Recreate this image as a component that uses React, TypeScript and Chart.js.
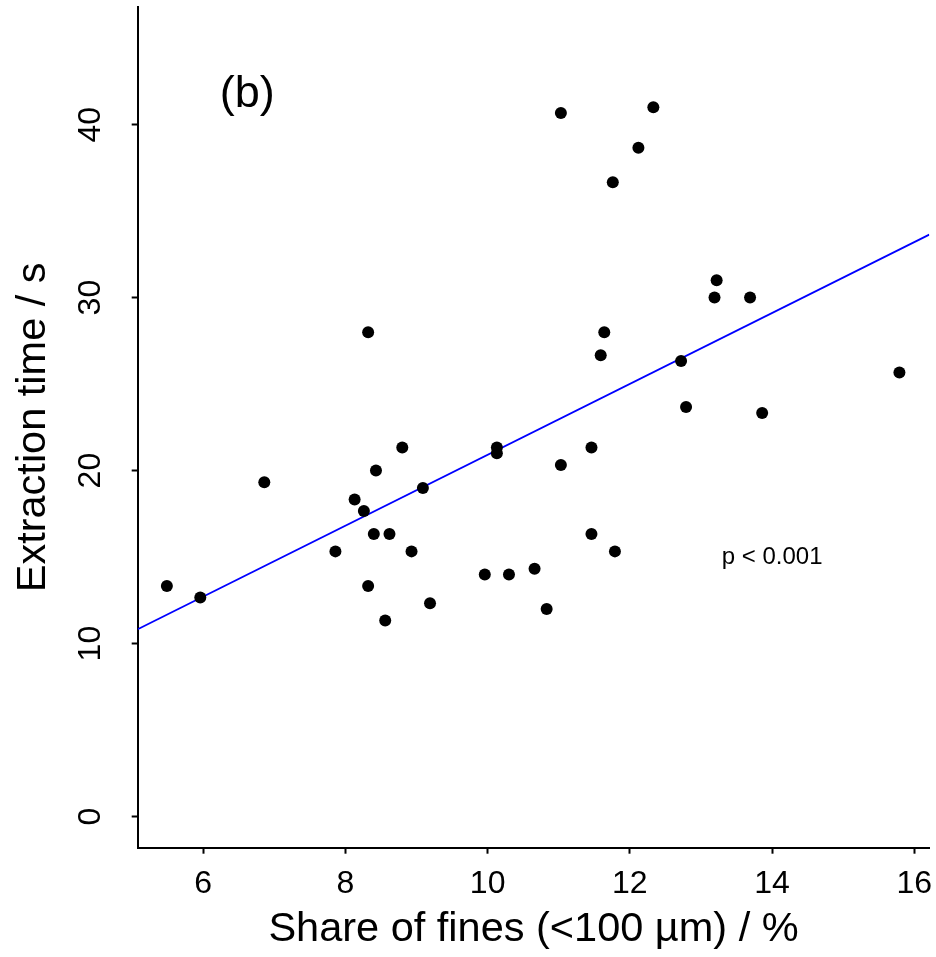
import React, { useEffect, useRef } from "react";
import { Chart, registerables } from "chart.js";

Chart.register(...registerables);

// Share of fines (<100 µm) / %
const fines = [
  5.49, 5.96, 6.86, 7.86, 8.13, 8.26, 8.32, 8.32, 8.4, 8.43, 8.56, 8.62, 8.8,
  8.93, 9.09, 9.19, 9.96, 10.13, 10.13, 10.3, 10.66, 10.83, 11.03, 11.03, 11.46,
  11.46, 11.59, 11.64, 11.76, 11.79, 12.12, 12.33, 12.72, 12.79, 13.19, 13.22,
  13.69, 13.86, 15.79,
];
// Extraction time / s
const extraction = [
  13.33, 12.67, 19.33, 15.33, 18.33, 17.67, 28.0, 13.33, 16.33, 20.0, 11.33,
  16.33, 21.33, 15.33, 19.0, 12.33, 14.0, 21.33, 21.0, 14.0, 14.33, 12.0, 40.67,
  20.33, 21.33, 16.33, 26.67, 28.0, 36.67, 15.33, 38.67, 41.0, 26.33, 23.67,
  30.0, 31.0, 30.0, 23.33, 25.67,
];
// Fitted regression line (end points across the plot range)
const fitX = [5.08, 16.21];
const fitY = [10.83, 33.64];

const xTicks = [6, 8, 10, 12, 14, 16];
const yTicks = [0, 10, 20, 30, 40];

const xTitle = "Share of fines (<100 µm) / %";
const yTitle = "Extraction time / s";
const panelLabel = "(b)";
const pLabel = "p < 0.001";

const X_MIN = 5.08;
const X_MAX = 16.21;
const Y_MIN = -1.8;
const Y_MAX = 46.8;

const panelPos = { x: 6.62, y: 41.73 };
const pPos = { x: 14, y: 15 };

const FONT = '"Liberation Sans", Arial, Helvetica, sans-serif';

const textPlugin = {
  id: "rtext",
  afterDraw(chart: any) {
    const ctx = chart.ctx as CanvasRenderingContext2D;
    const xs = chart.scales.x;
    const ys = chart.scales.y;
    ctx.save();
    ctx.fillStyle = "#000";
    ctx.textAlign = "center";
    ctx.textBaseline = "middle";
    // rotated y tick labels (R style, las = 0)
    ctx.font = `32px ${FONT}`;
    yTicks.forEach((v) => {
      const py = ys.getPixelForValue(v);
      ctx.save();
      ctx.translate(ys.right - 46.5, py);
      ctx.rotate(-Math.PI / 2);
      ctx.fillText(String(v), 0, 0);
      ctx.restore();
    });
    // panel label
    ctx.font = `45px ${FONT}`;
    ctx.fillText(panelLabel, xs.getPixelForValue(panelPos.x), ys.getPixelForValue(panelPos.y));
    // p-value
    ctx.font = `24px ${FONT}`;
    ctx.fillText(pLabel, xs.getPixelForValue(pPos.x), ys.getPixelForValue(pPos.y));
    ctx.restore();
  },
};

export default function App() {
  const ref = useRef<HTMLCanvasElement>(null);

  useEffect(() => {
    document.body.style.margin = "0";
    Chart.defaults.font.family = FONT;
    Chart.defaults.color = "#000";
    const chart = new Chart(ref.current as HTMLCanvasElement, {
      type: "scatter",
      data: {
        datasets: [
          {
            label: "data",
            data: fines.map((x, i) => ({ x, y: extraction[i] })),
            pointRadius: 6,
            pointHoverRadius: 6,
            backgroundColor: "#000",
            borderWidth: 0,
            showLine: false,
            order: 0,
          },
          {
            label: "fit",
            data: fitX.map((x, i) => ({ x, y: fitY[i] })),
            showLine: true,
            borderColor: "#0000ff",
            borderWidth: 1.8,
            pointRadius: 0,
            pointHoverRadius: 0,
            fill: false,
            order: 1,
          },
        ],
      },
      options: {
        responsive: false,
        animation: false,
        devicePixelRatio: 1,
        events: [],
        layout: { padding: { top: 7, right: 6.7, left: 0, bottom: 0 } },
        plugins: {
          legend: { display: false },
          tooltip: { enabled: false },
        },
        scales: {
          x: {
            type: "linear",
            position: "bottom",
            min: X_MIN,
            max: X_MAX,
            afterBuildTicks: (s: any) => {
              s.ticks = xTicks.map((v) => ({ value: v }));
            },
            afterFit: (s: any) => {
              s.height = 109.3;
              s.paddingLeft = 0;
              s.paddingRight = 0;
            },
            grid: {
              display: true,
              drawOnChartArea: false,
              drawTicks: true,
              tickLength: 6,
              tickWidth: 2,
              tickColor: "#000",
            },
            border: { display: true, color: "#000", width: 2 },
            ticks: {
              autoSkip: false,
              maxRotation: 0,
              minRotation: 0,
              padding: 11.6,
              color: "#000",
              font: { size: 32, family: FONT },
              callback: (v: any) => String(v),
            },
            title: {
              display: true,
              text: xTitle,
              color: "#000",
              font: { size: 41.5, family: FONT },
              padding: { top: 0, bottom: 3 },
            },
          },
          y: {
            type: "linear",
            min: Y_MIN,
            max: Y_MAX,
            afterBuildTicks: (s: any) => {
              s.ticks = yTicks.map((v) => ({ value: v }));
            },
            afterFit: (s: any) => {
              s.width = 137.7;
              s.paddingTop = 0;
              s.paddingBottom = 0;
            },
            grid: {
              display: true,
              drawOnChartArea: false,
              drawTicks: true,
              tickLength: 6,
              tickWidth: 2,
              tickColor: "#000",
            },
            border: { display: true, color: "#000", width: 2 },
            ticks: { display: false },
            title: {
              display: true,
              text: yTitle,
              color: "#000",
              font: { size: 41.5, family: FONT },
              padding: { top: 9, bottom: 0 },
            },
          },
        },
      },
      plugins: [textPlugin],
    } as any);
    return () => chart.destroy();
  }, []);

  return (
    <div style={{ position: "absolute", left: 0, top: 0, width: 936, height: 957, background: "#fff" }}>
      <canvas ref={ref} width={936} height={957} style={{ display: "block", width: 936, height: 957 }} />
    </div>
  );
}
